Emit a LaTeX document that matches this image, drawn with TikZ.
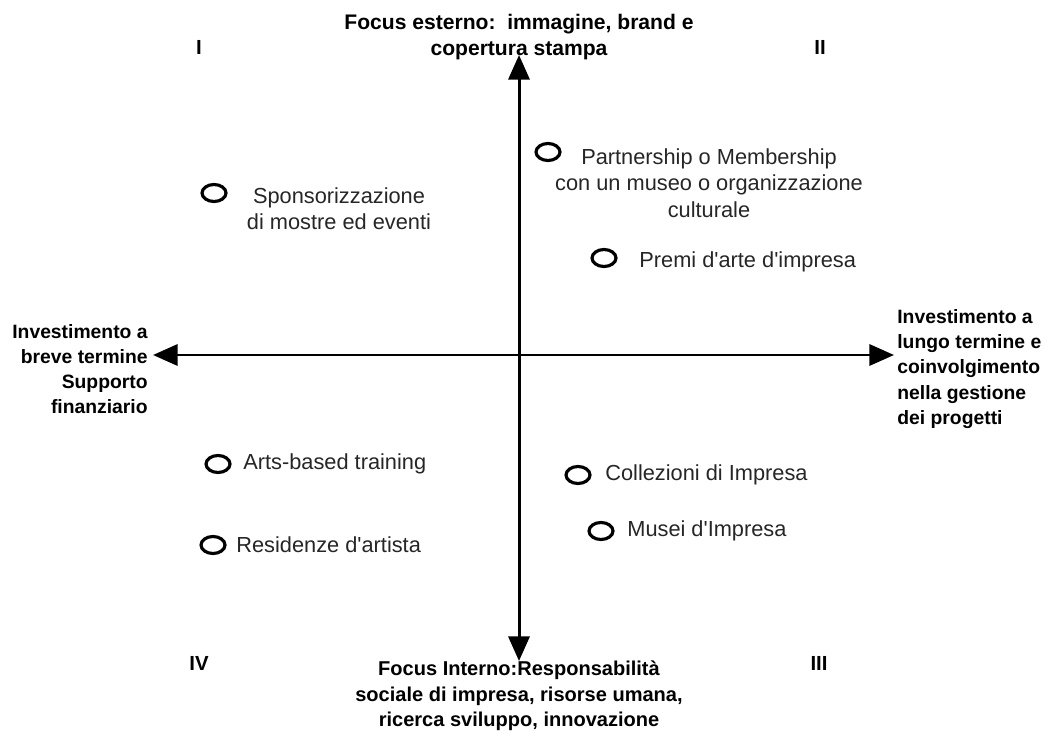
\documentclass[tikz,border=0pt]{standalone}
\usepackage{fontspec}
\setmainfont{Liberation Sans}[Ligatures=TeXOff]
\usetikzlibrary{arrows.meta,shapes.geometric}
\tikzset{
	axisline/.style={line width=1.7pt, {Triangle[width=12pt,length=14pt]}-{Triangle[width=12pt,length=14pt]}},
	spot/.style={draw, ellipse, line width=1.8pt, minimum width=0.48cm, minimum height=0.34cm, inner sep=0pt},
	itemtext/.style={text=black!85, font=\fontsize{12.4}{15}\selectfont, inner sep=0pt},
	axlabel/.style={font=\bfseries\fontsize{11}{14.3}\selectfont, inner sep=0pt},
	quad/.style={font=\bfseries\fontsize{11.6}{14}\selectfont, inner sep=0pt}
}

\begin{document}
\begin{tikzpicture}[x=0.02cm, y=-0.02cm]
		%%%%% START %%%%%
		\useasboundingbox (0, 0) rectangle (1044, 733);
		
		\coordinate (top) at (519, 55);
		\coordinate (bottom) at (519, 661);
		\coordinate (left) at (153, 355);
		\coordinate (right) at (894, 355);
		\draw[axisline] (top) -- (bottom);
		\draw[axisline] (left) -- (right);
		
		\node[axlabel, font=\bfseries\fontsize{12}{14.8}\selectfont, align=center] (ext) at (519, 37) {Focus esterno:~~immagine, brand e\\copertura stampa};
		\node[axlabel, font=\bfseries\fontsize{11.4}{14.4}\selectfont, align=center] (int) at (519, 696) {Focus Interno:Responsabilità\\sociale di impresa, risorse umana,\\ricerca sviluppo, innovazione};
		\node[axlabel, align=right, anchor=east] (short) at (148, 369) {Investimento a\\breve termine\\Supporto\\finanziario};
		\node[axlabel, align=left, anchor=west] (long) at (897, 369) {Investimento a\\lungo termine e\\coinvolgimento\\nella gestione\\dei progetti};
		
		\node[quad] (q1) at (199, 47) {I};
		\node[quad] (q2) at (820, 47) {II};
		\node[quad] (q3) at (819, 663) {III};
		\node[quad] (q4) at (199, 663) {IV};
		
		\node[spot] (spons) at (214, 193) {};
		\node[itemtext, align=center] (spons-t) at (339, 209) {Sponsorizzazione\\di mostre ed eventi};
		
		\node[spot] (partner) at (548, 152) {};
		\node[itemtext, align=center] (partner-t) at (709, 183) {Partnership o Membership\\con un museo o organizzazione\\culturale};
		
		\node[spot] (premi) at (604, 258) {};
		\node[itemtext, anchor=west] (premi-t) at (639, 262) {Premi d'arte d'impresa};
		
		\node[spot] (arts) at (218, 464) {};
		\node[itemtext, anchor=west] (arts-t) at (243, 464) {Arts-based training};
		
		\node[spot] (coll) at (578, 475) {};
		\node[itemtext, anchor=west] (coll-t) at (605, 475) {Collezioni di Impresa};
		
		\node[spot] (musei) at (601, 531) {};
		\node[itemtext, anchor=west] (musei-t) at (627, 531) {Musei d'Impresa};
		
		\node[spot] (resid) at (213, 545) {};
		\node[itemtext, anchor=west] (resid-t) at (236, 545) {Residenze d'artista};
		%%%%% END %%%%%
	\end{tikzpicture}
\end{document}
